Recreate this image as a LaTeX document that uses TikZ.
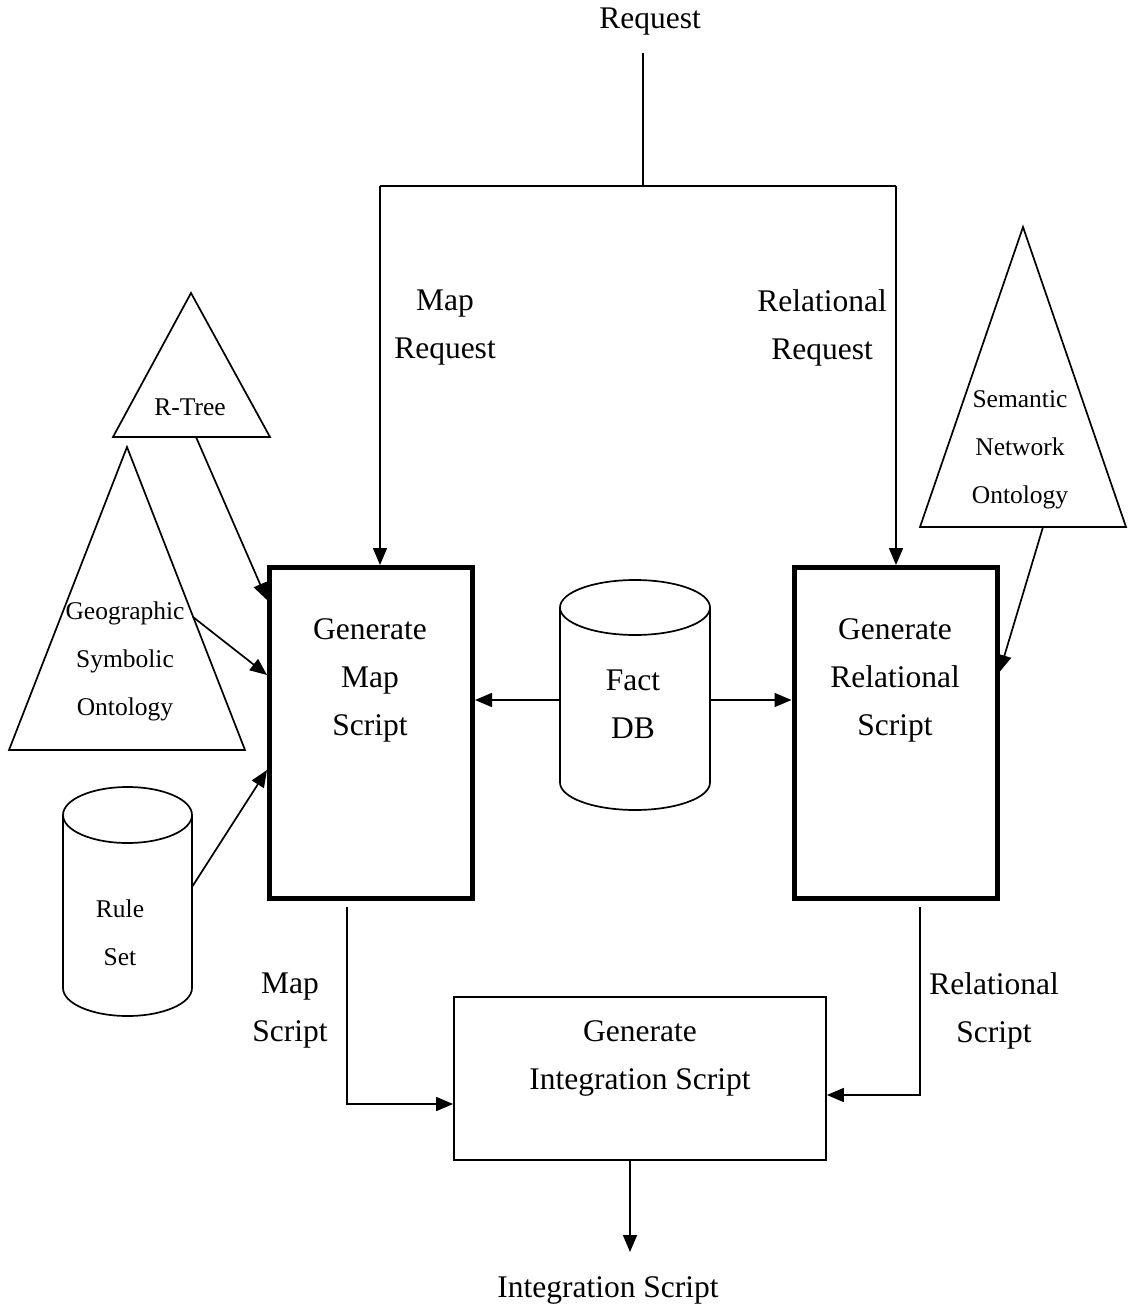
\documentclass[tikz,border=0pt]{standalone}
\usepackage{fontspec}
\setmainfont{Liberation Serif}
\usetikzlibrary{arrows.meta,calc}
\tikzset{
 conn/.style={line width=1.7pt},
 arr/.style={conn, -{Triangle[length=17pt,width=14pt]}},
 big/.style={font=\fontsize{31.5}{48}\selectfont, align=center, inner sep=0pt},
 small/.style={font=\fontsize{25.5}{48}\selectfont, align=center, inner sep=0pt},
 thickbox/.style={draw, line width=5pt, minimum width=203pt, minimum height=331pt, inner sep=0pt},
 thinbox/.style={draw, line width=1.8pt, inner sep=0pt},
 cylbody/.style={inner sep=0pt, outer sep=0pt},
 shapeline/.style={line width=1.7pt, line join=miter}
}
\begin{document}
\begin{tikzpicture}[x=1pt,y=-1pt]
\useasboundingbox (0,0) rectangle (1127,1313);
% top request
\node[big] (req) at (650,22) {Request};
\coordinate (reqfoot) at (643,53);
\coordinate (split) at (643,186);
\coordinate (lcorner) at (380,186);
\coordinate (rcorner) at (896,186);
% main boxes
\node[thickbox] (mapbox) at (371,733) {};
\node[thickbox] (relbox) at (895.5,733) {};
\node[big] (maptxt) at (370,680) {Generate\\Map\\Script};
\node[big] (reltxt) at (895,680) {Generate\\Relational\\Script};
\node[big] (mapreq) at (445,328) {Map\\Request};
\node[big] (relreq) at (822,328) {Relational\\Request};
\draw[conn] (reqfoot) -- (split);
\draw[conn] (lcorner) -- (rcorner);
\draw[arr] (lcorner) -- (mapbox.north -| lcorner);
\draw[arr] (rcorner) -- (relbox.north -| rcorner);
% fact db
\node[cylbody, minimum width=150pt, minimum height=230pt] (fact) at (635,695) {};
\draw[shapeline] ([yshift=-27.5pt]fact.north west) -- ([yshift=27.5pt]fact.south west)
  arc[start angle=180, end angle=360, x radius=75pt, y radius=27.5pt]
  -- ([yshift=-27.5pt]fact.north east);
\draw[shapeline] ([yshift=-27.5pt]fact.north) ellipse [x radius=75pt, y radius=27.5pt];
\node[big] (facttxt) at (633,704) {Fact\\DB};
\draw[arr] (fact.west |- 0,700) -- (mapbox.east |- 0,700);
\draw[arr] (fact.east |- 0,700) -- (relbox.west |- 0,700);
% rule set
\node[cylbody, minimum width=129pt, minimum height=229pt] (rule) at (127.5,901.5) {};
\draw[shapeline] ([yshift=-28pt]rule.north west) -- ([yshift=28pt]rule.south west)
  arc[start angle=180, end angle=360, x radius=64.5pt, y radius=28pt]
  -- ([yshift=-28pt]rule.north east);
\draw[shapeline] ([yshift=-28pt]rule.north) ellipse [x radius=64.5pt, y radius=28pt];
\node[small] (ruletxt) at (120,932.5) {Rule\\Set};
\draw[arr] (rule.east |- 0,887) -- (mapbox.west |- 0,770);
% R-Tree
\coordinate (rta) at (191,293);
\coordinate (rtl) at (113,437);
\coordinate (rtr) at (270,437);
\draw[shapeline] (rta) -- (rtl) -- (rtr) -- cycle;
\node[small] (rttxt) at (190,407) {R-Tree};
\coordinate (rtf) at (196,437);
\draw[arr] (rtf) -- (mapbox.west |- 0,600);
% Geographic
\coordinate (gea) at (127,447);
\coordinate (gel) at (9,750);
\coordinate (ger) at (245,750);
\draw[shapeline] (gea) -- (gel) -- (ger) -- cycle;
\node[small] (getxt) at (125,661) {Geographic\\Symbolic\\Ontology};
\coordinate (gep) at (193,617);
\draw[arr] (gep) -- (mapbox.west |- 0,675);
% Semantic
\coordinate (sea) at (1023,227);
\coordinate (sel) at (920,527);
\coordinate (ser) at (1126,527);
\draw[shapeline] (sea) -- (sel) -- (ser) -- cycle;
\node[small] (setxt) at (1020,450) {Semantic\\Network\\Ontology};
\coordinate (sef) at (1043,527);
\draw[arr] (sef) -- (relbox.east |- 0,672);
% integration
\node[thinbox, minimum width=372pt, minimum height=163pt] (intbox) at (640,1078.5) {};
\node[big] (inttxt) at (640,1058) {Generate\\Integration Script};
\coordinate (ms1) at (347,907);
\coordinate (rs1) at (920,907);
\draw[arr] (ms1) |- (intbox.west |- 0,1104);
\draw[arr] (rs1) |- (intbox.east |- 0,1095);
\node[big] (mslbl) at (290,1011) {Map\\Script};
\node[big] (rslbl) at (994,1011) {Relational\\Script};
\coordinate (outp) at (630,1252);
\draw[arr] (intbox.south -| outp) -- (outp);
\node[big] (outtxt) at (608,1290) {Integration Script};
\end{tikzpicture}
\end{document}
